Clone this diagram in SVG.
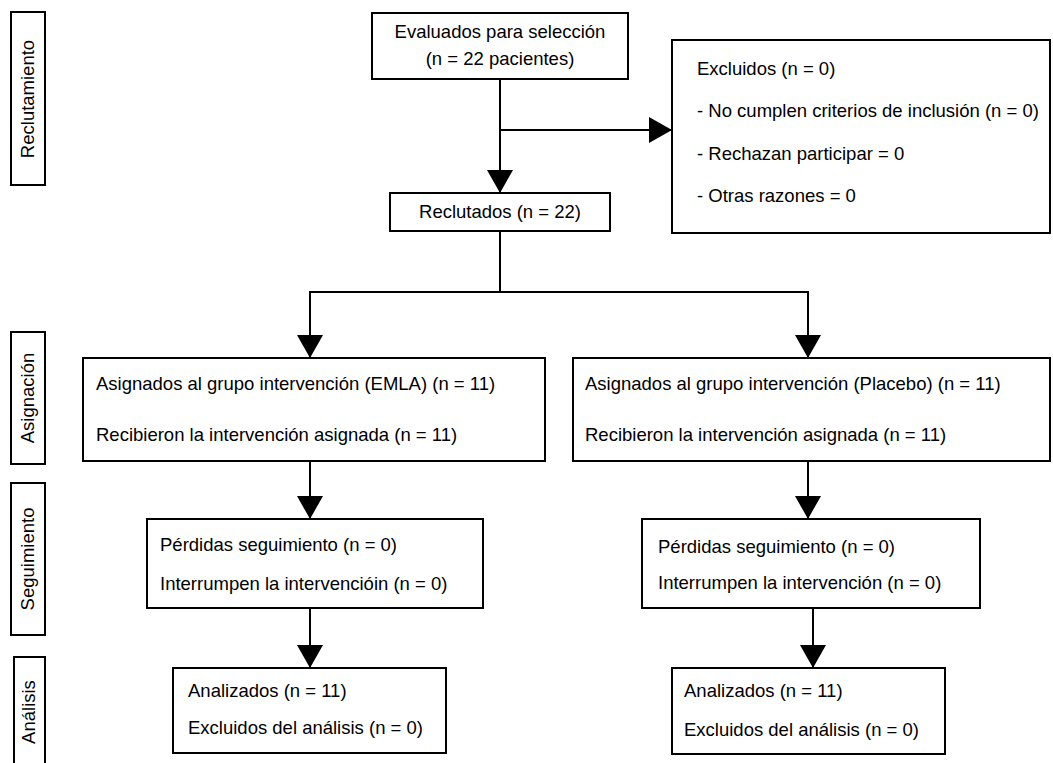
<svg xmlns="http://www.w3.org/2000/svg" width="1053" height="763" viewBox="0 0 1053 763">
<style>
.box{fill:#fff;stroke:#000;stroke-width:2}
.t{font-family:"Liberation Sans",Arial,sans-serif;font-size:18.5px;fill:#000}
.tc{font-family:"Liberation Sans",Arial,sans-serif;font-size:18.5px;fill:#000;text-anchor:middle}
.lab{font-family:"Liberation Sans",Arial,sans-serif;font-size:18.5px;fill:#000;text-anchor:middle}
.ln{fill:none;stroke:#000;stroke-width:2}
</style>
<defs>
<marker id="ah" viewBox="0 0 23 26" refX="23" refY="13" markerWidth="23" markerHeight="26" markerUnits="userSpaceOnUse" orient="auto">
<path d="M0,0 L23,13 L0,26 Z" fill="#000"/>
</marker>
</defs>
<g id="label-reclutamiento">
<rect class="box" x="11" y="12" width="34" height="173"/>
<text class="lab" transform="translate(34,99) rotate(-90)">Reclutamiento</text>
</g>
<g id="label-asignacion">
<rect class="box" x="11" y="332" width="34" height="132"/>
<text class="lab" transform="translate(34,398) rotate(-90)">Asignación</text>
</g>
<g id="label-seguimiento">
<rect class="box" x="11" y="483" width="34" height="152"/>
<text class="lab" transform="translate(34,559) rotate(-90)">Seguimiento</text>
</g>
<g id="label-analisis">
<rect class="box" x="14" y="657" width="31" height="115"/>
<text class="lab" transform="translate(35,712) rotate(-90)">Análisis</text>
</g>
<g id="connectors">
<line class="ln" x1="500" y1="79" x2="500" y2="193" marker-end="url(#ah)"/>
<line class="ln" x1="500" y1="130" x2="672" y2="130" marker-end="url(#ah)"/>
<polyline class="ln" points="500,231 500,292 310,292 310,358" marker-end="url(#ah)"/>
<polyline class="ln" points="500,292 808,292 808,358" marker-end="url(#ah)"/>
<line class="ln" x1="310" y1="461" x2="310" y2="519" marker-end="url(#ah)"/>
<line class="ln" x1="808" y1="461" x2="808" y2="519" marker-end="url(#ah)"/>
<line class="ln" x1="310" y1="608" x2="310" y2="668" marker-end="url(#ah)"/>
<line class="ln" x1="813" y1="608" x2="813" y2="668" marker-end="url(#ah)"/>
</g>
<g id="evaluados">
<rect class="box" x="372" y="13" width="256" height="66"/>
<text class="tc" x="500" y="38">Evaluados para selección</text>
<text class="tc" x="500" y="65">(n = 22 pacientes)</text>
</g>
<g id="excluidos">
<rect class="box" x="672" y="40" width="378" height="193"/>
<text class="t" x="697" y="75">Excluidos (n = 0)</text>
<text class="t" x="697" y="117">- No cumplen criterios de inclusión (n = 0)</text>
<text class="t" x="697" y="160">- Rechazan participar = 0</text>
<text class="t" x="697" y="202">- Otras razones = 0</text>
</g>
<g id="reclutados">
<rect class="box" x="390" y="193" width="220" height="38"/>
<text class="tc" x="500" y="218">Reclutados (n = 22)</text>
</g>
<g id="asignados-emla">
<rect class="box" x="83" y="358" width="462" height="103"/>
<text class="t" x="96" y="390">Asignados al grupo intervención (EMLA) (n = 11)</text>
<text class="t" x="96" y="441">Recibieron la intervención asignada (n = 11)</text>
</g>
<g id="asignados-placebo">
<rect class="box" x="573" y="358" width="477" height="103"/>
<text class="t" x="585" y="390">Asignados al grupo intervención (Placebo) (n = 11)</text>
<text class="t" x="585" y="441">Recibieron la intervención asignada (n = 11)</text>
</g>
<g id="perdidas-emla">
<rect class="box" x="147" y="519" width="336" height="89"/>
<text class="t" x="160" y="551">Pérdidas seguimiento (n = 0)</text>
<text class="t" x="160" y="590">Interrumpen la intervencióin (n = 0)</text>
</g>
<g id="perdidas-placebo">
<rect class="box" x="642" y="519" width="338" height="89"/>
<text class="t" x="658" y="553">Pérdidas seguimiento (n = 0)</text>
<text class="t" x="658" y="589">Interrumpen la intervención (n = 0)</text>
</g>
<g id="analizados-emla">
<rect class="box" x="173" y="668" width="273" height="85"/>
<text class="t" x="188" y="697">Analizados (n = 11)</text>
<text class="t" x="188" y="734">Excluidos del análisis (n = 0)</text>
</g>
<g id="analizados-placebo">
<rect class="box" x="672" y="668" width="273" height="86"/>
<text class="t" x="684" y="697">Analizados (n = 11)</text>
<text class="t" x="684" y="736">Excluidos del análisis (n = 0)</text>
</g>
</svg>
